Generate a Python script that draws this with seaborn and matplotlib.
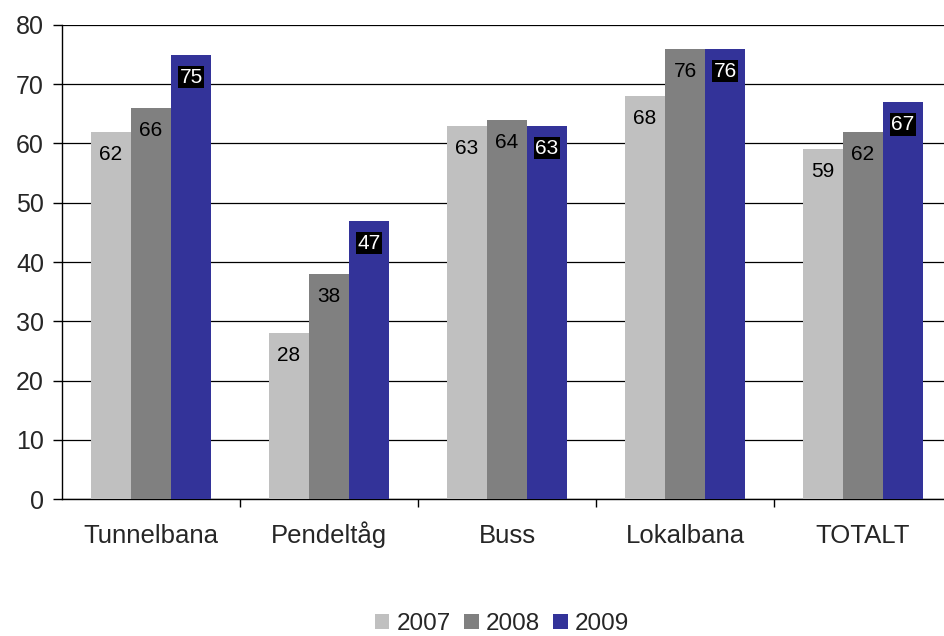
import matplotlib
matplotlib.use("Agg")
import matplotlib.pyplot as plt
import seaborn as sns
import pandas as pd

categories = ["Tunnelbana", "Pendeltåg", "Buss", "Lokalbana", "TOTALT"]
years = ["2007", "2008", "2009"]
values_2007 = [62, 28, 63, 68, 59]
values_2008 = [66, 38, 64, 76, 62]
values_2009 = [75, 47, 63, 76, 67]
yticks = [0, 10, 20, 30, 40, 50, 60, 70, 80]

colors = ["#C0C0C0", "#808080", "#333399"]

rows = []
for yr, vals in zip(years, [values_2007, values_2008, values_2009]):
    for c, v in zip(categories, vals):
        rows.append({"Kategori": c, "År": yr, "Värde": v})
df = pd.DataFrame(rows)

sns.set_style("white")
plt.rcParams["font.family"] = ["Liberation Sans", "DejaVu Sans"]

fig = plt.figure(figsize=(9.44, 6.36), dpi=100)
ax = fig.add_axes([0.0657, 0.2154, 0.9428, 0.7453])

sns.barplot(data=df, x="Kategori", y="Värde", hue="År", palette=colors,
            order=categories, hue_order=years, width=0.675, saturation=1,
            edgecolor="none", linewidth=0, ax=ax, legend=True, zorder=3)

ax.set_ylim(0, 80)
ax.set_xlim(-0.5, 4.5)
ax.set_yticks(yticks)
ax.set_yticklabels([str(t) for t in yticks], fontsize=18)
ax.yaxis.grid(True, color="black", linewidth=0.9, zorder=0)
ax.set_axisbelow(True)
ax.set_xlabel("")
ax.set_ylabel("")

for side in ["top", "right"]:
    ax.spines[side].set_visible(False)
for side in ["left", "bottom"]:
    ax.spines[side].set_color("black")
    ax.spines[side].set_linewidth(1.0)

ax.tick_params(axis="y", direction="out", length=6.5, width=1, color="black",
               left=True, pad=6.5)
ax.tick_params(axis="x", which="major", length=0, labelsize=18.5, pad=31.5)
for lbl in ax.get_xticklabels():
    lbl.set_verticalalignment("baseline")
ax.set_xticks([0.5, 1.5, 2.5, 3.5], minor=True)
ax.tick_params(axis="x", which="minor", direction="out", length=6, width=1,
               color="black", bottom=True)

# value labels inside the top of each bar
for i, cont in enumerate(ax.containers):
    for patch in cont:
        h = patch.get_height()
        x = patch.get_x() + patch.get_width() / 2
        if i == 2:
            ax.text(x, h - 3.8, f"{h:.0f}", ha="center", va="center",
                    fontsize=15, color="white", zorder=5,
                    bbox=dict(boxstyle="square,pad=0.08", fc="black", ec="none"))
        else:
            ax.text(x, h - 3.8, f"{h:.0f}", ha="center", va="center",
                    fontsize=15, color="black", zorder=5)

handles, labels = ax.get_legend_handles_labels()
ax.legend_.remove()
fig.legend(handles, labels, loc="center", bbox_to_anchor=(502 / 944, 1 - 624 / 636),
           ncol=3, frameon=False, fontsize=17.5, handlelength=0.6,
           handleheight=0.6, handletextpad=0.3, columnspacing=0.55,
           borderpad=0)

fig.savefig("out.png", dpi=100)
